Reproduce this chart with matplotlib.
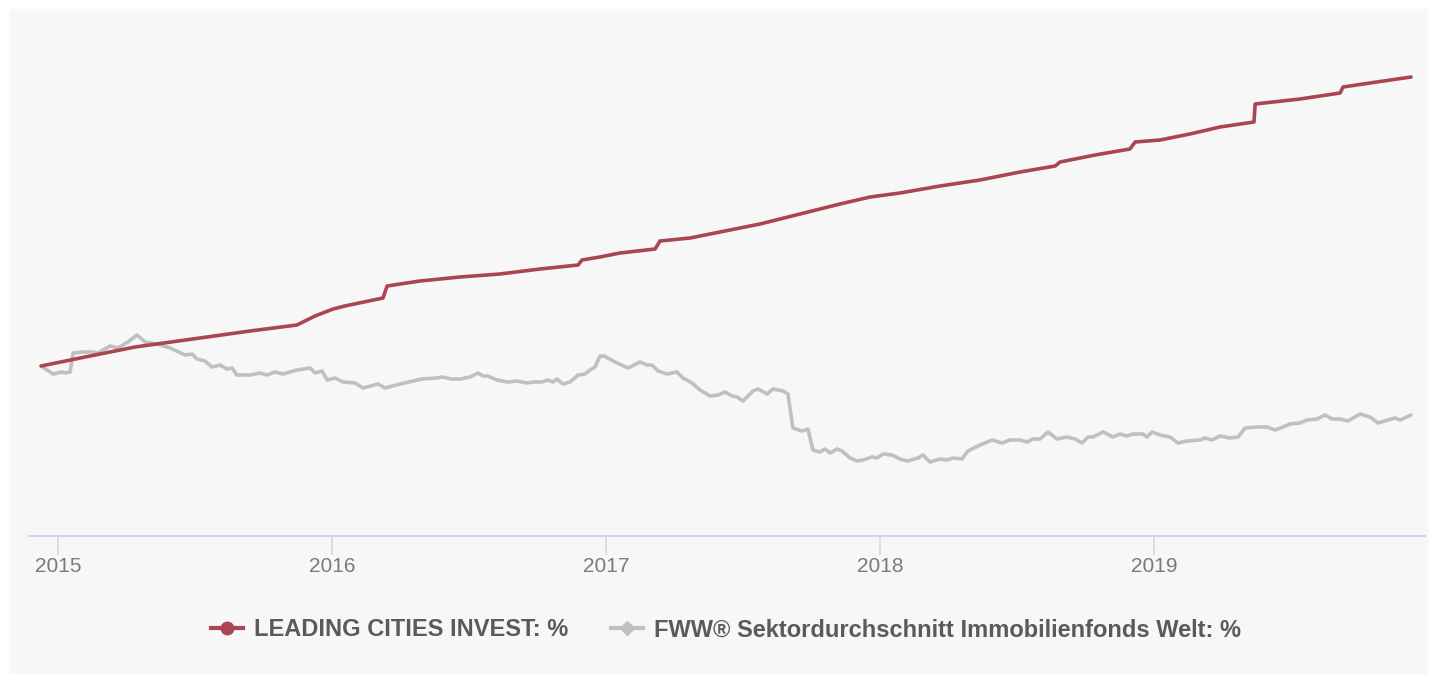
"""Fund performance vs. sector average, 5 years"""

import matplotlib
matplotlib.use("Agg")
import matplotlib.pyplot as plt
from matplotlib.patches import Rectangle
from matplotlib.lines import Line2D

plt.rcParams['font.family'] = ['Liberation Sans', 'DejaVu Sans']

# x = decimal year, y = performance in %
years = [2015, 2016, 2017, 2018, 2019]

fund_label = "LEADING CITIES INVEST: %"
fund_x = [2014.938, 2015.117, 2015.281, 2015.518, 2015.701, 2015.872, 2015.938,
          2016.004, 2016.047, 2016.186, 2016.201, 2016.248, 2016.321, 2016.467,
          2016.613, 2016.759, 2016.898, 2016.912, 2016.978, 2017.051, 2017.179,
          2017.197, 2017.307, 2017.416, 2017.562, 2017.708, 2017.854, 2017.964,
          2018.073, 2018.219, 2018.365, 2018.511, 2018.639, 2018.657, 2018.785,
          2018.912, 2018.931, 2019.022, 2019.131, 2019.241, 2019.365, 2019.369,
          2019.533, 2019.679, 2019.690, 2019.788, 2019.938]
fund_y = [0.0, 1.0, 1.9, 2.8, 3.5, 4.1, 5.0,
          5.7, 6.0, 6.8, 8.0, 8.2, 8.5, 8.9,
          9.2, 9.7, 10.1, 10.6, 10.9, 11.3, 11.7,
          12.5, 12.8, 13.4, 14.2, 15.2, 16.2, 16.9,
          17.3, 18.0, 18.6, 19.4, 20.0, 20.4, 21.1,
          21.7, 22.4, 22.6, 23.2, 23.9, 24.4, 26.2,
          26.7, 27.3, 27.9, 28.3, 28.9]

sector_label = "FWW® Sektordurchschnitt Immobilienfonds Welt: %"
sector_x = [2014.938, 2014.982, 2015.015, 2015.026, 2015.044, 2015.055, 2015.091,
            2015.124, 2015.146, 2015.190, 2015.219, 2015.255, 2015.288, 2015.318,
            2015.361, 2015.409, 2015.464, 2015.489, 2015.507, 2015.536, 2015.562,
            2015.591, 2015.617, 2015.635, 2015.653, 2015.701, 2015.737, 2015.763,
            2015.792, 2015.821, 2015.872, 2015.920, 2015.938, 2015.964, 2015.982,
            2016.011, 2016.040, 2016.084, 2016.113, 2016.168, 2016.193, 2016.248,
            2016.296, 2016.328, 2016.383, 2016.401, 2016.438, 2016.467, 2016.504,
            2016.533, 2016.551, 2016.569, 2016.602, 2016.642, 2016.675, 2016.712,
            2016.734, 2016.766, 2016.788, 2016.807, 2016.821, 2016.843, 2016.869,
            2016.898, 2016.923, 2016.942, 2016.960, 2016.978, 2016.993, 2017.033,
            2017.080, 2017.124, 2017.150, 2017.168, 2017.190, 2017.223, 2017.259,
            2017.281, 2017.314, 2017.343, 2017.380, 2017.409, 2017.434, 2017.460,
            2017.478, 2017.500, 2017.536, 2017.555, 2017.588, 2017.609, 2017.646,
            2017.664, 2017.682, 2017.715, 2017.737, 2017.755, 2017.781, 2017.799,
            2017.818, 2017.843, 2017.861, 2017.891, 2017.916, 2017.938, 2017.971,
            2017.989, 2018.011, 2018.044, 2018.073, 2018.099, 2018.139, 2018.157,
            2018.182, 2018.219, 2018.245, 2018.266, 2018.299, 2018.321, 2018.365,
            2018.409, 2018.445, 2018.474, 2018.511, 2018.536, 2018.558, 2018.584,
            2018.613, 2018.646, 2018.682, 2018.712, 2018.737, 2018.759, 2018.777,
            2018.814, 2018.850, 2018.876, 2018.901, 2018.923, 2018.960, 2018.974,
            2018.993, 2019.022, 2019.058, 2019.088, 2019.120, 2019.168, 2019.186,
            2019.212, 2019.241, 2019.277, 2019.307, 2019.332, 2019.376, 2019.412,
            2019.442, 2019.471, 2019.496, 2019.533, 2019.558, 2019.595, 2019.624,
            2019.650, 2019.679, 2019.708, 2019.752, 2019.788, 2019.818, 2019.854,
            2019.880, 2019.898, 2019.923, 2019.938]
sector_y = [0.0, -0.8, -0.6, -0.7, -0.6, 1.3, 1.4,
            1.4, 1.3, 2.0, 1.8, 2.4, 3.1, 2.4,
            2.2, 1.8, 1.1, 1.2, 0.7, 0.5, -0.1,
            0.1, -0.3, -0.2, -0.9, -0.9, -0.7, -0.9,
            -0.6, -0.8, -0.4, -0.2, -0.7, -0.5, -1.4,
            -1.2, -1.6, -1.7, -2.2, -1.8, -2.2, -1.8,
            -1.5, -1.3, -1.2, -1.1, -1.3, -1.3, -1.1,
            -0.7, -1.0, -1.0, -1.4, -1.6, -1.5, -1.7,
            -1.6, -1.6, -1.4, -1.6, -1.3, -1.8, -1.6,
            -0.9, -0.8, -0.4, -0.1, 1.0, 1.0, 0.4,
            -0.2, 0.4, 0.1, 0.1, -0.5, -0.8, -0.6,
            -1.2, -1.7, -2.4, -3.0, -2.9, -2.6, -3.0,
            -3.1, -3.5, -2.5, -2.3, -2.8, -2.3, -2.5,
            -2.8, -6.2, -6.5, -6.3, -8.4, -8.6, -8.3,
            -8.7, -8.3, -8.5, -9.2, -9.5, -9.4, -9.1,
            -9.2, -8.8, -8.9, -9.3, -9.5, -9.2, -8.9,
            -9.6, -9.3, -9.4, -9.2, -9.3, -8.5, -7.9,
            -7.4, -7.7, -7.4, -7.4, -7.6, -7.3, -7.3,
            -6.6, -7.3, -7.1, -7.3, -7.7, -7.1, -7.1,
            -6.6, -7.1, -6.8, -7.0, -6.8, -6.8, -7.1,
            -6.6, -6.9, -7.1, -7.7, -7.5, -7.4, -7.2,
            -7.4, -7.0, -7.2, -7.1, -6.2, -6.1, -6.1,
            -6.4, -6.1, -5.8, -5.7, -5.4, -5.3, -4.9,
            -5.3, -5.3, -5.5, -4.8, -5.1, -5.7, -5.4,
            -5.2, -5.4, -5.1, -4.9]

RED = "#a94651"
GREY = "#c0c0c0"
AXIS = "#ccd6eb"

W, H = 1435, 682
fig = plt.figure(figsize=(W / 100, H / 100), dpi=100, facecolor="white")
# light grey panel behind the chart
fig.patches.append(Rectangle((9 / W, 9 / H), 1418 / W, 664 / H,
                             transform=fig.transFigure, color="#f7f7f7", zorder=-10))

ax = fig.add_axes([29 / W, (H - 536) / H, 1396 / W, 516 / H])
ax.set_zorder(1)
ax.patch.set_alpha(0)

ax.plot(sector_x, sector_y, color=GREY, lw=2.6, solid_joinstyle="round",
        solid_capstyle="round")
ax.plot(fund_x, fund_y, color=RED, lw=2.6, solid_joinstyle="round",
        solid_capstyle="round")

ax.set_xlim(2014.894, 2019.989)
ax.set_ylim(-17.0, 34.6)

for s in ["top", "left", "right"]:
    ax.spines[s].set_visible(False)
ax.spines["bottom"].set_color(AXIS)
ax.spines["bottom"].set_linewidth(1.4)
ax.set_yticks([])
ax.set_xticks(years)
ax.set_xticklabels([str(y) for y in years])
ax.tick_params(axis="x", length=13.5, width=1.1, color=AXIS, pad=1.5,
               labelsize=15, labelcolor="#7a7a7a")

# legend
leg_fund = Line2D([], [], color=RED, lw=3, marker="o", markersize=9)
leg_sector = Line2D([], [], color=GREY, lw=3, marker="D", markersize=7)
leg = fig.legend([leg_fund, leg_sector], [fund_label, sector_label],
                 loc="center", bbox_to_anchor=(726 / W, (H - 630) / H),
                 ncol=2, frameon=False, handlelength=1.36, handletextpad=0.47,
                 columnspacing=1.82, borderpad=0,
                 prop={"weight": "bold", "size": 17})
for t in leg.get_texts():
    t.set_color("#5a5a5a")

plt.savefig("out.png", dpi=100, facecolor="white")
